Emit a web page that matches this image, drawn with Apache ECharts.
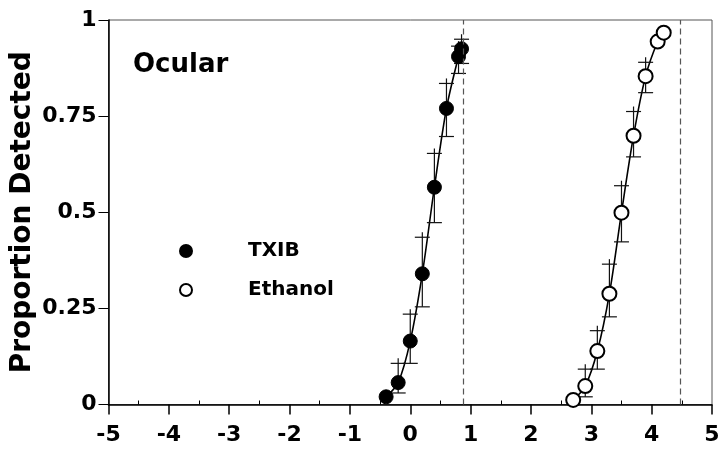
<!DOCTYPE html>
<html>
<head>
<meta charset="utf-8">
<script src="https://cdn.jsdelivr.net/npm/echarts@6/dist/echarts.min.js"></script>
<style>
  html, body { margin: 0; padding: 0; background: #fff; }
  #chart { width: 722px; height: 450px; }
</style>
</head>
<body>
<div id="chart"></div>
<script>
// Detection proportions vs. log concentration, two stimuli
const txibX = [-0.4, -0.2, 0.0, 0.2, 0.4, 0.6, 0.8, 0.85];
const txibY = [0.02, 0.057, 0.165, 0.34, 0.565, 0.77, 0.905, 0.925];
const txibLow = [null, 0.03, 0.107, 0.254, 0.473, 0.697, 0.861, 0.887];
const txibHigh = [null, 0.107, 0.235, 0.435, 0.653, 0.835, 0.932, 0.95];

const ethX = [2.7, 2.9, 3.1, 3.3, 3.5, 3.7, 3.9, 4.1, 4.2];
const ethY = [0.012, 0.048, 0.139, 0.288, 0.499, 0.699, 0.854, 0.944, 0.967];
const ethLow = [null, 0.02, 0.092, 0.228, 0.423, 0.644, 0.811, null, null];
const ethHigh = [null, 0.092, 0.192, 0.365, 0.569, 0.762, 0.89, null, null];

// Vertical reference lines (dashed)
const cutoffs = [0.87, 4.47];

const xMinorTicks = [-4.5, -3.5, -2.5, -1.5, -0.5, 0.5, 1.5, 2.5, 3.5, 4.5];

const FONT = 'DejaVu Sans';

function pairs(xs, ys) { return xs.map((x, i) => [x, ys[i]]); }
function bars(xs, lo, hi) {
  const out = [];
  xs.forEach((x, i) => { if (lo[i] != null && hi[i] != null) out.push([x, lo[i], hi[i]]); });
  return out;
}

// Vertical error bar with caps; the stem pokes a little past the upper cap
function errorBarItem(params, api) {
  const x = api.value(0);
  const lo = api.coord([x, api.value(1)]);
  const hi = api.coord([x, api.value(2)]);
  const half = 7.5;
  const style = { stroke: '#111', lineWidth: 1.2, fill: null };
  return {
    type: 'group',
    children: [
      { type: 'line', shape: { x1: hi[0], y1: hi[1] - 5, x2: lo[0], y2: lo[1] }, style },
      { type: 'line', shape: { x1: hi[0] - half, y1: hi[1], x2: hi[0] + half, y2: hi[1] }, style },
      { type: 'line', shape: { x1: lo[0] - half, y1: lo[1], x2: lo[0] + half, y2: lo[1] }, style }
    ]
  };
}

const chart = echarts.init(document.getElementById('chart'), null, { renderer: 'canvas' });

chart.setOption({
  animation: false,
  backgroundColor: '#fff',
  title: {
    text: 'Ocular',
    left: 128, top: 47,
    textStyle: { fontFamily: FONT, fontSize: 26, fontWeight: 'bold', color: '#000' }
  },
  legend: {
    data: ['TXIB', 'Ethanol'],
    orient: 'vertical',
    left: 174, top: 236,
    itemWidth: 12, itemHeight: 12,
    itemGap: 19,
    textStyle: { fontFamily: FONT, fontSize: 20, fontWeight: 'bold', color: '#000', padding: [0, 0, 0, 51] }
  },
  grid: {
    left: 108.5, right: 10, top: 20, bottom: 45.5,
    outerBoundsMode: 'none',
    show: true, borderColor: '#555', borderWidth: 1, backgroundColor: 'transparent'
  },
  xAxis: [
    {
      type: 'value', min: -5, max: 5, interval: 1,
      axisLine: { onZero: false, lineStyle: { color: '#000', width: 1.5 } },
      axisTick: { show: true, inside: false, length: 10, lineStyle: { color: '#000', width: 1.5 } },
      axisLabel: { fontFamily: FONT, fontSize: 22, fontWeight: 'bold', color: '#000', margin: 20 },
      splitLine: { show: false }
    },
    {
      type: 'value', min: -5, max: 5, position: 'bottom',
      axisLine: { show: false, onZero: false },
      axisTick: { show: true, inside: true, length: 4, customValues: xMinorTicks,
                  lineStyle: { color: '#000', width: 1 } },
      axisLabel: { show: false },
      splitLine: { show: false }
    }
  ],
  yAxis: {
    type: 'value', min: 0, max: 1, interval: 0.25,
    name: 'Proportion Detected', nameLocation: 'middle', nameGap: 72,
    nameMoveOverlap: false,
    nameTextStyle: { fontFamily: FONT, fontSize: 28, fontWeight: 'bold', color: '#000' },
    axisLine: { onZero: false, lineStyle: { color: '#000', width: 1.5 } },
    axisTick: { show: true, inside: false, length: 10, lineStyle: { color: '#000', width: 1 } },
    axisLabel: { fontFamily: FONT, fontSize: 22, fontWeight: 'bold', color: '#000', margin: 12 },
    splitLine: { show: false }
  },
  series: [
    {
      name: 'TXIB fit', type: 'line', data: pairs(txibX, txibY), smooth: 0.3,
      showSymbol: false, lineStyle: { color: '#000', width: 1.6 }, z: 2,
      markLine: {
        silent: true, symbol: 'none', label: { show: false },
        lineStyle: { color: '#555', type: [6, 4], width: 1.2 },
        data: cutoffs.map(v => ({ xAxis: v }))
      }
    },
    {
      name: 'Ethanol fit', type: 'line', data: pairs(ethX, ethY), smooth: 0.3,
      showSymbol: false, lineStyle: { color: '#000', width: 1.6 }, z: 2
    },
    { name: 'TXIB err', type: 'custom', renderItem: errorBarItem, data: bars(txibX, txibLow, txibHigh), z: 3 },
    { name: 'Ethanol err', type: 'custom', renderItem: errorBarItem, data: bars(ethX, ethLow, ethHigh), z: 3 },
    {
      name: 'TXIB', type: 'scatter', data: pairs(txibX, txibY), symbol: 'circle', symbolSize: 14,
      itemStyle: { color: '#000', borderColor: '#000', borderWidth: 1, opacity: 1 }, z: 4
    },
    {
      name: 'Ethanol', type: 'scatter', data: pairs(ethX, ethY), symbol: 'circle', symbolSize: 14,
      itemStyle: { color: '#fff', borderColor: '#000', borderWidth: 2, opacity: 1 }, z: 4
    }
  ]
});
</script>
</body>
</html>
